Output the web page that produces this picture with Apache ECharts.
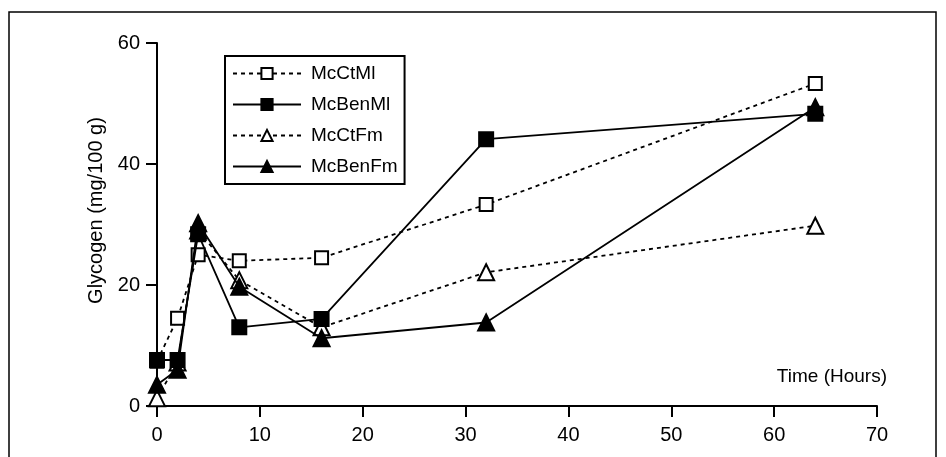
<!DOCTYPE html>
<html><head><meta charset="utf-8">
<script src="https://cdn.jsdelivr.net/npm/echarts@6/dist/echarts.min.js"></script>
<style>html,body{margin:0;padding:0;background:#fff}#c{width:946px;height:457px}</style>
</head><body><div id="c"></div>
<script>
const hours = [0, 2, 4, 8, 16, 32, 64];
const seriesNames = ['McCtMl', 'McBenMl', 'McCtFm', 'McBenFm'];
const mcCtMl = [7.4, 14.5, 25, 24, 24.5, 33.3, 53.3];
const mcBenMl = [7.6, 7.6, 28.4, 13, 14.4, 44.1, 48.3];
const mcCtFm = [1.3, 7.2, 29, 20.8, 13, 22.1, 29.8];
const mcBenFm = [3.5, 6, 30.2, 19.7, 11.2, 13.8, 49.4];
const yTicks = [0, 20, 40, 60];
const xTicks = [0, 10, 20, 30, 40, 50, 60, 70];

const F = '"Liberation Sans", Arial, sans-serif';
const FN = '"Liberation Sans Narrow", "Liberation Sans", Arial, sans-serif';
function pairs(v){ return hours.map((h,i)=>[h, v[i]]); }
function mk(name, vals, symbol, filled, dashed, size){
  return {
    name, type:'line', data:pairs(vals), symbol, symbolSize:size,
    showAllSymbol:true,
    lineStyle:{color:'#000', width:1.8, type: dashed ? [4,4] : 'solid'},
    itemStyle:{color: filled ? '#000' : '#fff', borderColor:'#000', borderWidth:2},
    emphasis:{disabled:true}, animation:false, z: filled ? 3 : 2
  };
}
const chart = echarts.init(document.getElementById('c'));
chart.setOption({
  animation:false,
  graphic:[{type:'rect', shape:{x:9, y:12, width:927, height:460},
    style:{fill:'none', stroke:'#000', lineWidth:1.5}, silent:true}],
  grid:{left:157, right:69, top:43, bottom:51},
  legend:{
    orient:'vertical', left:225, top:56, itemWidth:68, itemHeight:14, itemGap:12,
    padding:[8,7,8,7], borderColor:'#000', borderWidth:2,
    textStyle:{fontFamily:F, fontSize:19, color:'#000', padding:[0,0,0,5]},
    data:seriesNames, selectedMode:false
  },
  xAxis:{type:'value', min:0, max:70, interval:10,
    axisLine:{lineStyle:{color:'#000', width:2}},
    axisTick:{length:11, lineStyle:{color:'#000', width:2}},
    axisLabel:{fontFamily:FN, fontSize:20, color:'#000', margin:19},
    splitLine:{show:false},
    name:'Time (Hours)', nameLocation:'end', nameGap:0,
    nameTextStyle:{fontFamily:F, fontSize:19, color:'#000', align:'right', verticalAlign:'bottom', padding:[0,-10,20,0]}
  },
  yAxis:{type:'value', min:0, max:60, interval:20,
    axisLine:{show:true, lineStyle:{color:'#000', width:2}},
    axisTick:{show:true, length:11, lineStyle:{color:'#000', width:2}},
    axisLabel:{fontFamily:F, fontSize:20, color:'#000', margin:17},
    splitLine:{show:false},
    name:'Glycogen (mg/100 g)', nameLocation:'middle', nameGap:44, nameRotate:90,
    nameTextStyle:{fontFamily:F, fontSize:20, color:'#000', padding:[0,0,0,28]}
  },
  series:[
    mk('McCtMl', mcCtMl, 'rect', false, true, 13),
    mk('McBenMl', mcBenMl, 'rect', true, false, 14),
    mk('McCtFm', mcCtFm, 'triangle', false, true, 16),
    mk('McBenFm', mcBenFm, 'triangle', true, false, 16)
  ]
});
</script></body></html>
